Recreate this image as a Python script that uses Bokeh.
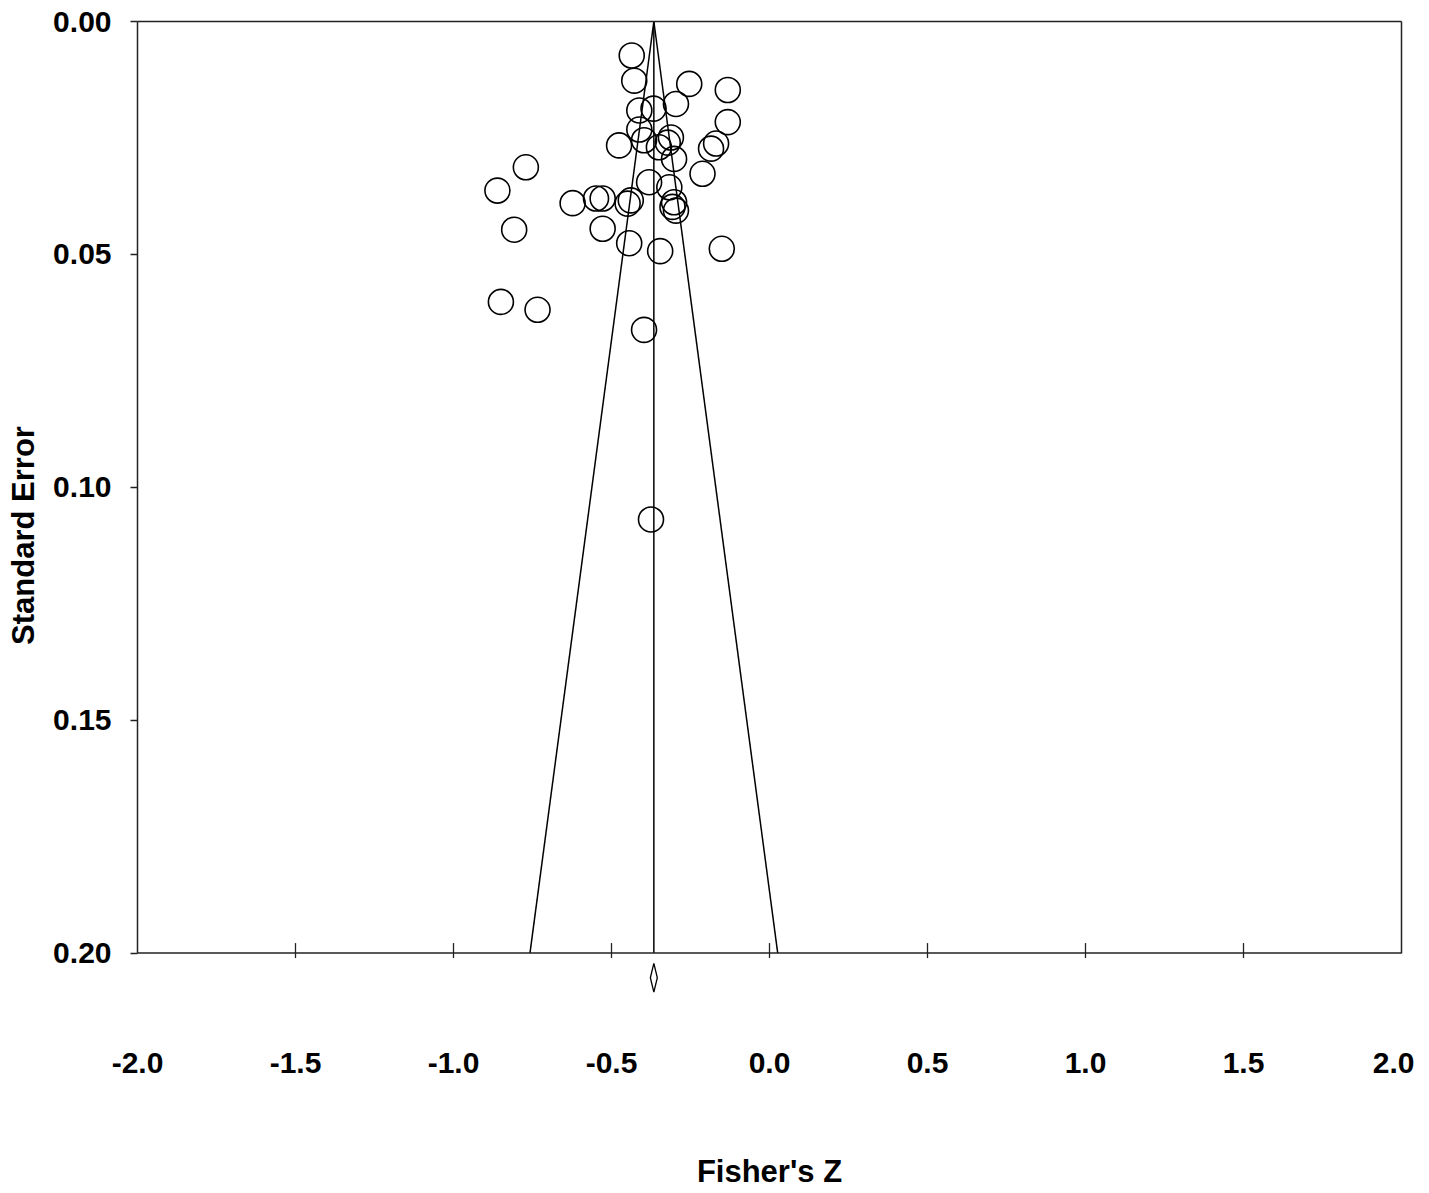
from bokeh.plotting import figure
from bokeh.models import (Range1d, FixedTicker, PrintfTickFormatter, LinearAxis, Span,
                          ColumnDataSource)
from bokeh.embed import file_html
from bokeh.resources import INLINE

# ---- data ----
fisher_z = [-0.436, -0.428, -0.254, -0.132, -0.296, -0.367, -0.412, -0.132, -0.412, -0.397,
            -0.476, -0.312, -0.322, -0.350, -0.302, -0.169, -0.185, -0.212, -0.771, -0.861,
            -0.381, -0.317, -0.623, -0.549, -0.528, -0.449, -0.439, -0.302, -0.307, -0.296,
            -0.808, -0.528, -0.444, -0.346, -0.151, -0.850, -0.734, -0.397, -0.375]
std_err = [0.0073, 0.0127, 0.0134, 0.0147, 0.0177, 0.0187, 0.0191, 0.0216, 0.0232, 0.0255,
           0.0266, 0.0249, 0.0260, 0.0270, 0.0295, 0.0262, 0.0273, 0.0327, 0.0313, 0.0363,
           0.0345, 0.0356, 0.0390, 0.0380, 0.0380, 0.0391, 0.0384, 0.0388, 0.0398, 0.0406,
           0.0447, 0.0445, 0.0476, 0.0493, 0.0488, 0.0602, 0.0619, 0.0662, 0.1069]

pooled_z = -0.366
pooled_ci_half = 0.011
z_crit = 1.96
se_max = 0.20

x_ticks = [-2.0, -1.5, -1.0, -0.5, 0.0, 0.5, 1.0, 1.5, 2.0]
y_ticks = [0.00, 0.05, 0.10, 0.15, 0.20]

FONT = "Liberation Sans"
LC = "#222222"

# frame extends a little below SE=0.20 so the pooled diamond can sit under the axis
y_bottom = 0.2207
p = figure(frame_width=1264, frame_height=1028,
           x_range=Range1d(-2.0, 2.0), y_range=Range1d(y_bottom, 0.0),
           output_backend="svg", toolbar_location=None,
           min_border_left=137, min_border_top=21, min_border_right=13, min_border_bottom=0)
p.xgrid.visible = False
p.ygrid.visible = False
p.background_fill_color = "white"
p.border_fill_color = "white"
p.outline_line_color = None

# bottom axis: labels and title only (line/ticks drawn at SE = 0.20 below)
p.xaxis.ticker = FixedTicker(ticks=x_ticks)
p.xaxis.formatter = PrintfTickFormatter(format="%.1f")
p.xaxis.axis_line_color = None
p.xaxis.major_tick_line_color = None
p.xaxis.minor_tick_line_color = None
p.xaxis.major_tick_out = 0
p.xaxis.major_tick_in = 0
p.xaxis.major_label_standoff = 3
p.xaxis.axis_label = "Fisher's Z"
p.xaxis.axis_label_standoff = 78

# left axis with line only over 0 .. 0.20
p.yaxis.ticker = FixedTicker(ticks=y_ticks)
p.yaxis.formatter = PrintfTickFormatter(format="%.2f")
p.yaxis.bounds = (0.0, se_max)
p.yaxis.major_tick_in = 0
p.yaxis.major_tick_out = 7
p.yaxis.minor_tick_line_color = None
p.yaxis.major_label_standoff = 19
p.yaxis.axis_line_color = LC
p.yaxis.axis_line_width = 1.5
p.yaxis.major_tick_line_color = LC
p.yaxis.major_tick_line_width = 1.3

for ax in (p.xaxis, p.yaxis):
    ax.major_label_text_font = FONT
    ax.major_label_text_font_style = "bold"
    ax.major_label_text_font_size = "30px"
    ax.major_label_text_color = "black"
    ax.axis_label_text_font = FONT
    ax.axis_label_text_font_style = "bold"
    ax.axis_label_text_font_size = "31px"
    ax.axis_label_text_color = "black"

# extra left axis carrying only the title
title_ax = LinearAxis(ticker=FixedTicker(ticks=[]), axis_line_color=None,
                      major_tick_line_color=None, minor_tick_line_color=None,
                      axis_label="Standard Error", axis_label_standoff=10,
                      axis_label_text_font=FONT, axis_label_text_font_style="bold",
                      axis_label_text_font_size="31px", axis_label_text_color="black")
p.add_layout(title_ax, "left")

# top and right borders of the box
top_ax = LinearAxis(ticker=FixedTicker(ticks=[]), axis_line_color=LC, axis_line_width=1.5,
                    major_tick_line_color=None, minor_tick_line_color=None,
                    major_label_text_font_size="0px")
p.add_layout(top_ax, "above")
right_ax = LinearAxis(ticker=FixedTicker(ticks=[]), axis_line_color=LC, axis_line_width=1.5,
                      major_tick_line_color=None, minor_tick_line_color=None,
                      major_label_text_font_size="0px", bounds=(0.0, se_max))
p.add_layout(right_ax, "right")

# bottom border at SE = 0.20 with ticks (10 px in, 5 px out)
p.add_layout(Span(location=se_max, dimension="width", line_color=LC, line_width=1.5))
px_per_unit = 1028 / y_bottom
tick_x = x_ticks[1:-1]
p.segment(x0=tick_x, x1=tick_x,
          y0=[se_max - 10 / px_per_unit] * len(tick_x),
          y1=[se_max + 5 / px_per_unit] * len(tick_x),
          line_color=LC, line_width=1.3)

# funnel
p.line([pooled_z, pooled_z], [0.0, se_max], line_color="black", line_width=1.5)
p.line([pooled_z, pooled_z - z_crit * se_max], [0.0, se_max], line_color="black", line_width=1.5)
p.line([pooled_z, pooled_z + z_crit * se_max], [0.0, se_max], line_color="black", line_width=1.5)

# studies
src = ColumnDataSource(dict(x=fisher_z, y=std_err))
p.scatter("x", "y", source=src, marker="circle", size=25, fill_alpha=0,
          line_color="black", line_width=1.6)

# pooled-estimate diamond below the axis
dy = 0.2053
dh = 0.0031
p.patch([pooled_z - pooled_ci_half, pooled_z, pooled_z + pooled_ci_half, pooled_z],
        [dy, dy - dh, dy, dy + dh], fill_alpha=0, line_color="black", line_width=1.3)

open("out.html", "w").write(file_html(p, INLINE))
